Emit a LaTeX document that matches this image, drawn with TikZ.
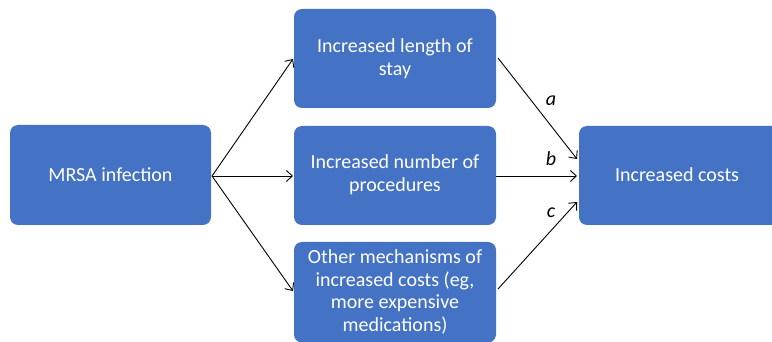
\documentclass[tikz,border=0pt]{standalone}
\usepackage{fontspec}
\setmainfont{Carlito}
\usetikzlibrary{arrows.meta}
\definecolor{boxblue}{HTML}{4472C4}
\tikzset{
  box/.style={fill=boxblue, rounded corners=8pt},
  boxtext/.style={text=white, align=center, font=\fontsize{20}{22.7}\selectfont, inner sep=0pt},
  conn/.style={draw=black, line width=0.9pt, -{Straight Barb[length=6pt,width=11pt,line width=0.9pt]}},
  lab/.style={font=\fontsize{20}{22}\selectfont\itshape, text=black}
}
\begin{document}
\begin{tikzpicture}[x=1pt,y=-1pt]
\useasboundingbox (0,0) rectangle (772,342);
\path[box] (10,125) rectangle (211,225);
\node[boxtext] (mrsa) at (110.5,175) {MRSA infection};
\path[box] (294,9) rectangle (496,108);
\node[boxtext] (los) at (395,58.5) {Increased length of\\stay};
\path[box] (294,126) rectangle (496,225);
\node[boxtext] (proc) at (395,175) {Increased number of\\procedures};
\path[box] (294,242) rectangle (496,342.5);
\node[boxtext] (other) at (395,292) {Other mechanisms of\\increased costs (eg,\\more expensive\\medications)};
\path[box] (579,126) rectangle (780,225);
\node[boxtext] (cost) at (677,175) {Increased costs};
\coordinate (m) at (212,176);
\coordinate (t1) at (293,59);
\coordinate (t2) at (293,176);
\coordinate (t3) at (293,291);
\coordinate (s1) at (498,58);
\coordinate (s2) at (496,176);
\coordinate (s3) at (498,289);
\coordinate (e1) at (577,159);
\coordinate (e2) at (577,176);
\coordinate (e3) at (577,202);
\draw[conn] (m) -- (t1);
\draw[conn] (m) -- (t2);
\draw[conn] (m) -- (t3);
\draw[conn] (s1) -- (e1);
\draw[conn] (s2) -- (e2);
\draw[conn] (s3) -- (e3);
\node[lab] (la) at (551,101) {a};
\node[lab] (lb) at (551,159) {b};
\node[lab] (lc) at (551,213) {c};
\end{tikzpicture}
\end{document}
